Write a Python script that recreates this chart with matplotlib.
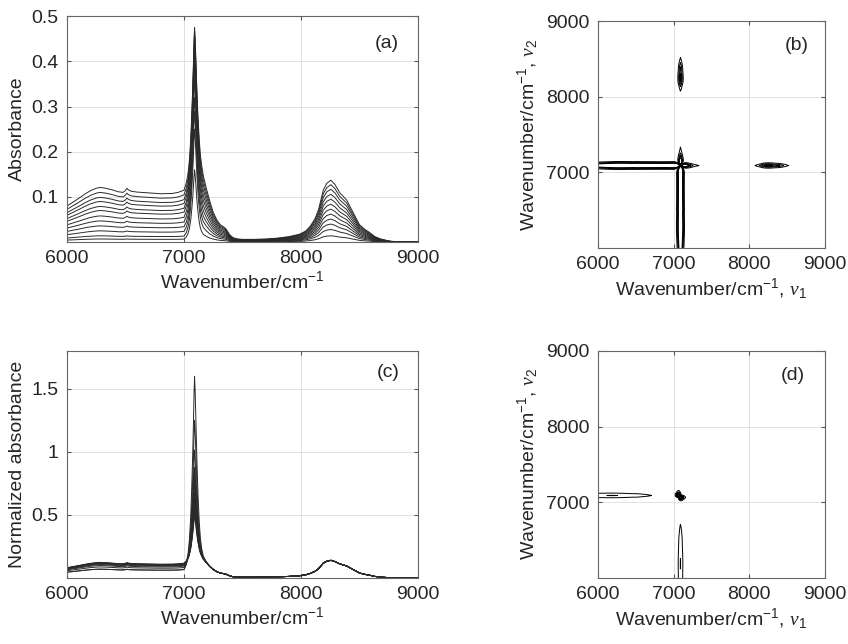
import numpy as np
import matplotlib
matplotlib.use("Agg")
import matplotlib.pyplot as plt

plt.rcParams["font.family"] = "Liberation Sans"
plt.rcParams["mathtext.fontset"] = "custom"
plt.rcParams["mathtext.rm"] = "Liberation Sans"
plt.rcParams["mathtext.it"] = "Liberation Serif:italic"
plt.rcParams["mathtext.default"] = "regular"

# wavenumber grid (cm-1)
wn = [6000, 6050, 6100, 6150, 6200, 6250, 6280, 6320, 6380, 6440,
      6480, 6500, 6512, 6525, 6550, 6600, 6700, 6800, 6900, 6950,
      7000, 7020, 7035, 7045, 7055, 7060, 7065, 7070, 7075, 7080,
      7085, 7090, 7095, 7100, 7105, 7110, 7115, 7120, 7130, 7140,
      7150, 7165, 7190, 7220, 7250, 7280, 7310, 7340, 7360, 7390,
      7420, 7460, 7500, 7600, 7700, 7800, 7900, 7990, 8040, 8080,
      8120, 8150, 8190, 8220, 8255, 8290, 8330, 8390, 8450, 8500,
      8550, 8590, 8630, 8680, 8760, 8850, 9000]

# band shapes (normalised to 1)
low_band = [0.66, 0.73, 0.80, 0.875, 0.94, 0.985, 1.0, 0.99, 0.96, 0.92,
            0.91, 0.945, 0.985, 0.955, 0.93, 0.915, 0.90, 0.885, 0.89, 0.91,
            0.95, 0.975, 0.99, 1.0, 1.0, 0.995, 0.985, 0.97, 0.95, 0.93,
            0.9, 0.86, 0.82, 0.78, 0.74, 0.7, 0.66, 0.61, 0.52, 0.43,
            0.35, 0.23, 0.09, 0.025, 0, 0, 0, 0, 0, 0,
            0, 0, 0, 0, 0, 0, 0, 0, 0, 0,
            0, 0, 0, 0, 0, 0, 0, 0, 0, 0,
            0, 0, 0, 0, 0, 0, 0]
high_band = [0, 0, 0, 0, 0, 0, 0, 0, 0, 0,
             0, 0, 0, 0, 0, 0, 0, 0, 0, 0,
             0, 0.03, 0.06, 0.1, 0.15, 0.18, 0.21, 0.25, 0.29, 0.33,
             0.37, 0.41, 0.45, 0.49, 0.53, 0.57, 0.61, 0.65, 0.71, 0.75,
             0.78, 0.80, 0.77, 0.64, 0.48, 0.36, 0.28, 0.245, 0.21, 0.12,
             0.07, 0.05, 0.045, 0.045, 0.05, 0.065, 0.09, 0.13, 0.18, 0.26,
             0.38, 0.53, 0.84, 0.95, 1.0, 0.93, 0.80, 0.68, 0.46, 0.28,
             0.2, 0.15, 0.09, 0.05, 0.015, 0.004, 0.0]
peak_band = [0, 0, 0, 0, 0, 0, 0, 0, 0, 0,
             0, 0, 0, 0, 0, 0, 0, 0, 0, 0,
             0, 0.03, 0.08, 0.14, 0.24, 0.31, 0.40, 0.50, 0.61, 0.74,
             0.89, 1.0, 0.92, 0.8, 0.67, 0.55, 0.44, 0.35, 0.21, 0.12,
             0.07, 0.03, 0.01, 0, 0, 0, 0, 0, 0, 0,
             0, 0, 0, 0, 0, 0, 0, 0, 0, 0,
             0, 0, 0, 0, 0, 0, 0, 0, 0, 0,
             0, 0, 0, 0, 0, 0, 0]

# per-spectrum levels: low band at 6280, band at 8255, peak top at 7090
low_level = [0.121, 0.110, 0.099, 0.090, 0.079, 0.070, 0.058, 0.047, 0.036, 0.025, 0.014, 0.007]
high_level = [0.137, 0.127, 0.117, 0.106, 0.095, 0.084, 0.073, 0.062, 0.051, 0.040, 0.028, 0.014]
peak_top = [0.475, 0.468, 0.458, 0.445, 0.43, 0.41, 0.39, 0.36, 0.32, 0.29, 0.25, 0.16]
norm_ref = 0.14

# profiles for the normalised-spectra correlation map (d)
low_var = [0.9, 0.92, 0.95, 0.98, 1.0, 0.97, 0.94, 0.89, 0.81, 0.73,
           0.69, 0.69, 0.7, 0.67, 0.61, 0.52, 0.33, 0.2, 0.11, 0.08,
           0.04, 0.03, 0.02, 0.015, 0.01, 0.01, 0.005, 0.005, 0, 0,
           0, 0, 0, 0, 0, 0, 0, 0, 0, 0,
           0, 0, 0, 0, 0, 0, 0, 0, 0, 0,
           0, 0, 0, 0, 0, 0, 0, 0, 0, 0,
           0, 0, 0, 0, 0, 0, 0, 0, 0, 0,
           0, 0, 0, 0, 0, 0, 0]
shift_band = [0, 0, 0, 0, 0, 0, 0, 0, 0, 0,
              0, 0, 0, 0, 0, 0, 0, 0, 0, 0,
              0, 0.05, 0.2, 0.45, 0.8, 0.93, 1.0, 0.93, 0.8, 0.6,
              0.4, 0.25, 0.14, 0.07, 0.03, 0.01, 0, 0, 0, 0,
              0, 0, 0, 0, 0, 0, 0, 0, 0, 0,
              0, 0, 0, 0, 0, 0, 0, 0, 0, 0,
              0, 0, 0, 0, 0, 0, 0, 0, 0, 0,
              0, 0, 0, 0, 0, 0, 0]

# correlation strengths
k_low_peak = 2.5
k_high_peak = 1.0
k_lowvar_peak = 0.78
k_shift_peak = 5.0

wn = np.array(wn, float)
L = np.array(low_band)
H = np.array(high_band)
P = np.array(peak_band)
i_pk = list(wn).index(7090)

spectra = []
for b, c, top in zip(low_level, high_level, peak_top):
    amp = top - (b * L[i_pk] + c * H[i_pk])
    spectra.append(b * L + c * H + amp * P)
normed = [s / (c / norm_ref) for s, c in zip(spectra, high_level)]

Zb = k_low_peak * (np.outer(P, L) - np.outer(L, P)) + k_high_peak * (np.outer(P, H) - np.outer(H, P))
L2 = np.array(low_var)
Q = np.array(shift_band)
Zd = k_lowvar_peak * (np.outer(P, L2) - np.outer(L2, P)) + k_shift_peak * (np.outer(P, Q) - np.outer(Q, P))

lev_b = [0.25, 0.45, 0.65, 0.85]
lev_d = [0.25, 0.75, 1.0, 1.3, 1.6, 1.9, 2.2, 2.5, 2.8, 3.1]

fig = plt.figure(figsize=(8.48, 6.44), dpi=100)
ax1 = fig.add_axes([0.079, 0.624, 0.414, 0.351])
ax2 = fig.add_axes([0.705, 0.615, 0.268, 0.352])
ax3 = fig.add_axes([0.079, 0.1025, 0.414, 0.3525])
ax4 = fig.add_axes([0.705, 0.1025, 0.268, 0.3525])

for s in spectra:
    ax1.plot(wn, s, color="#2a2a2a", lw=0.7)
for s in normed:
    ax3.plot(wn, s, color="#2a2a2a", lw=0.7)

for ax, Z, lev in [(ax2, Zb, lev_b), (ax4, Zd, lev_d)]:
    levels = sorted([-v for v in lev] + lev)
    ax.contour(wn, wn, Z, levels=levels, colors="k", linewidths=0.7, linestyles="solid")

xl = "Wavenumber/cm$^{-1}$"
ax1.set_ylim(0, 0.5)
ax1.set_yticks([0.1, 0.2, 0.3, 0.4, 0.5])
ax1.set_ylabel("Absorbance")
ax3.set_ylim(0, 1.8)
ax3.set_yticks([0.5, 1, 1.5])
ax3.set_yticklabels(["0.5", "1", "1.5"])
ax3.set_ylabel("Normalized absorbance")
for ax in (ax1, ax3):
    ax.set_xlabel(xl)
for ax in (ax2, ax4):
    ax.set_ylim(6000, 9000)
    ax.set_yticks([7000, 8000, 9000])
    ax.set_xlabel(xl + r", $\mathit{\nu}_1$")
    ax.set_ylabel(xl + r", $\mathit{\nu}_2$")

for ax, lab, pos in [(ax1, "(a)", (0.91, 0.88)), (ax2, "(b)", (0.877, 0.894)),
                     (ax3, "(c)", (0.915, 0.903)), (ax4, "(d)", (0.86, 0.894))]:
    ax.set_xlim(6000, 9000)
    ax.set_xticks([6000, 7000, 8000, 9000])
    ax.grid(True, color="#dcdcdc", lw=0.6)
    ax.set_axisbelow(True)
    ax.tick_params(direction="in", length=3, top=True, right=True, pad=6,
                   labelsize=14, colors="#555555", labelcolor="#262626")
    for sp in ax.spines.values():
        sp.set_color("#666666")
        sp.set_linewidth(0.8)
    ax.xaxis.label.set_size(14)
    ax.yaxis.label.set_size(14)
    ax.xaxis.label.set_color("#262626")
    ax.yaxis.label.set_color("#262626")
    ax.xaxis.labelpad = 2
    ax.yaxis.labelpad = 4
    ax.text(pos[0], pos[1], lab, transform=ax.transAxes, ha="center", va="center",
            fontsize=14, color="#262626")

fig.savefig("out.png", dpi=100)
